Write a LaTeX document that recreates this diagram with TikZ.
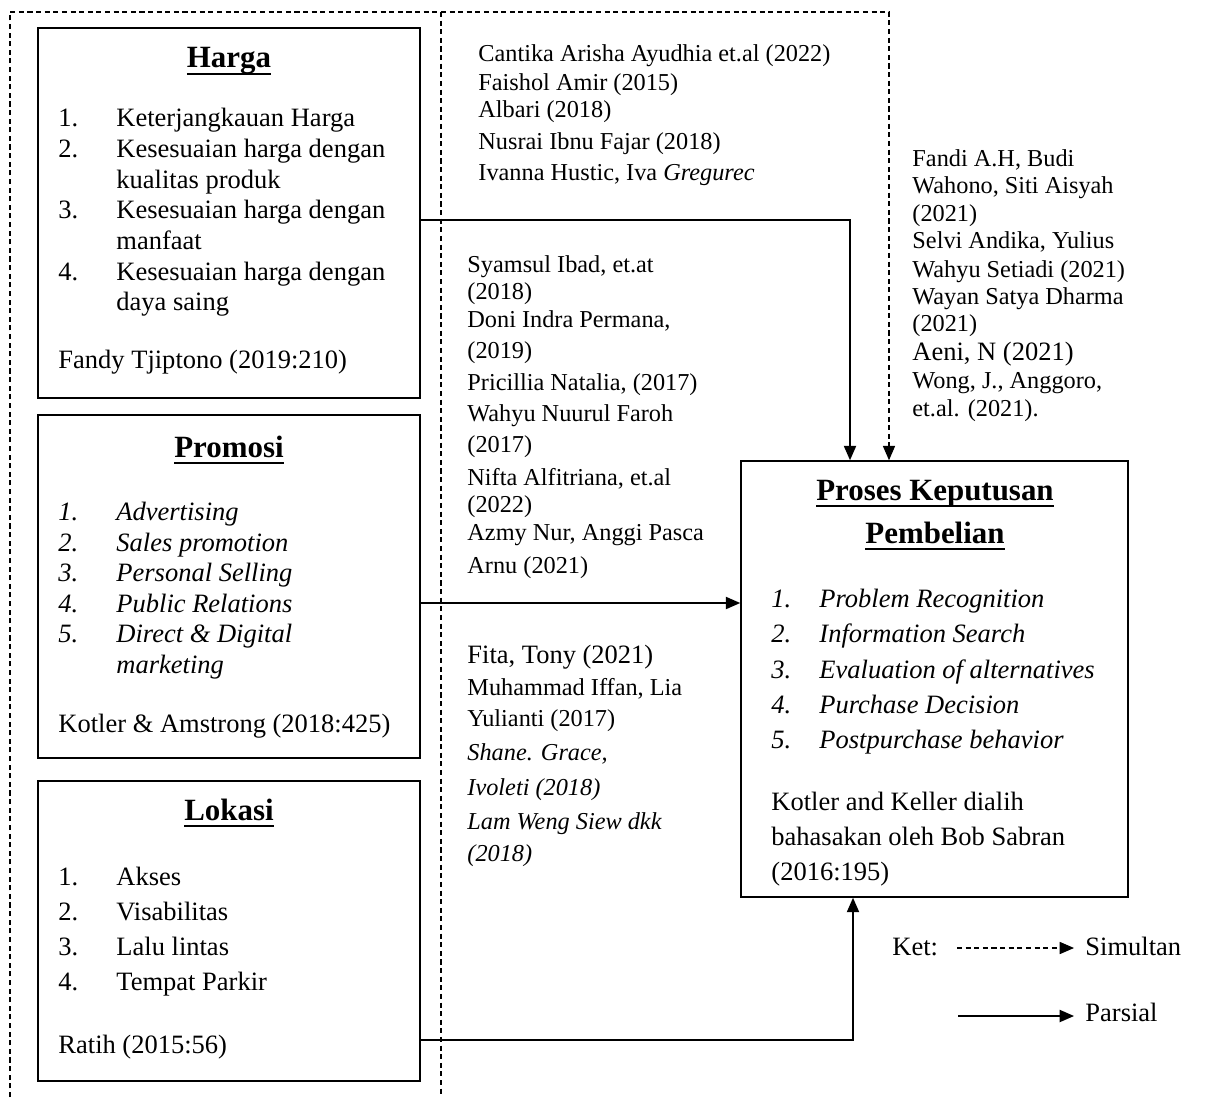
\documentclass[tikz,border=0pt]{standalone}
\usepackage{fontspec}
\setmainfont{Liberation Serif}
\usetikzlibrary{arrows.meta,fit}
\newcommand\ulttl[1]{\setbox0\hbox{#1}\rlap{\rule[-3.2pt]{\wd0}{1.1pt}}\box0}

\begin{document}
\begin{tikzpicture}[x=0.4528pt, y=-0.4528pt,
    box/.style={draw, line width=0.7pt, inner sep=0pt},
    txt/.style={anchor=base west, inner sep=0pt, font=\fontsize{12}{14}\selectfont},
    it/.style={txt, font=\fontsize{12}{14}\selectfont\itshape},
    sm/.style={txt, font=\fontsize{11}{13}\selectfont},
    smit/.style={txt, font=\fontsize{11}{13}\selectfont\itshape},
    ttl/.style={anchor=base, inner sep=0pt, font=\fontsize{14}{16}\selectfont\bfseries},
    par/.style={line width=0.7pt, -{Triangle[length=6.5pt,width=5.5pt]}},
    dsh/.style={line width=0.5pt, dash pattern=on 2.3pt off 1.6pt},
    sim/.style={par, dsh}]
    \useasboundingbox (0,0) rectangle (1206,1097);

    % boxes
    \node[box, fit={(38,28) (420,398)}] (harga) {};
    \node[box, fit={(38,415) (420,758)}] (promosi) {};
    \node[box, fit={(38,781) (420,1081)}] (lokasi) {};
    \node[box, fit={(741,461) (1128,897)}] (proses) {};

    % titles
    \node[ttl] (tharga) at (229,68) {\ulttl{Harga}};
    \node[ttl] (tpromosi) at (229,457) {\ulttl{Promosi}};
    \node[ttl] (tlokasi) at (229,820) {\ulttl{Lokasi}};
    \node[ttl] (tproses) at (935,500) {\ulttl{Proses Keputusan}};
    \node[ttl] (tpembelian) at (935,543) {\ulttl{Pembelian}};

    % indikator
    \foreach \y/\n/\t in {127/1./{Keterjangkauan Harga}, 157/2./{Kesesuaian harga dengan},
        188//{kualitas produk}, 218/3./{Kesesuaian harga dengan}, 249//{manfaat},
        280/4./{Kesesuaian harga dengan}, 310//{daya saing}}
        {\node[txt] (hn\y) at (58,\y) {\n}; \node[txt] (ht\y) at (116,\y) {\t};}
    \node[txt] (sharga) at (58,368) {Fandy Tjiptono (2019:210)};

    \foreach \y/\n/\t in {520/1./{Advertising}, 551/2./{Sales promotion}, 581/3./{Personal Selling},
        612/4./{Public Relations}, 642/5./{Direct \& Digital}, 673//{marketing}}
        {\node[it] (pn\y) at (58,\y) {\n}; \node[it] (pt\y) at (116,\y) {\t};}
    \node[txt] (spromosi) at (58,732) {Kotler \& Amstrong (2018:425)};

    \foreach \y/\n/\t in {885/1./{Akses}, 920/2./{Visabilitas}, 955/3./{Lalu lintas}, 990/4./{Tempat Parkir}}
        {\node[txt] (ln\y) at (58,\y) {\n}; \node[txt] (lt\y) at (116,\y) {\t};}
    \node[txt] (slokasi) at (58,1053) {Ratih (2015:56)};

    \foreach \y/\n/\t in {607/1./{Problem Recognition}, 642/2./{Information Search},
        678/3./{Evaluation of alternatives}, 713/4./{Purchase Decision}, 748/5./{Postpurchase behavior}}
        {\node[it] (kn\y) at (771,\y) {\n}; \node[it] (kt\y) at (819,\y) {\t};}
    \foreach \y/\t in {810/{Kotler and Keller dialih}, 845/{bahasakan oleh Bob Sabran}, 880/{(2016:195)}}
        \node[txt] (ks\y) at (771,\y) {\t};

    % penelitian terdahulu
    \foreach \y/\t in {62/{Cantika Arisha Ayudhia et.al (2022)}, 90/{Faishol Amir (2015)}, 118/{Albari (2018)},
        149/{Nusrai Ibnu Fajar (2018)}, 180/{Ivanna Hustic, Iva \textit{Gregurec}}}
        \node[sm] (ra\y) at (478,\y) {\t};
    \foreach \y/\t in {272/{Syamsul Ibad, et.at}, 299/{(2018)}, 327/{Doni Indra Permana,}, 358/{(2019)},
        390/{Pricillia Natalia, (2017)}, 421/{Wahyu Nuurul Faroh}, 452/{(2017)},
        485/{Nifta Alfitriana, et.al}, 512/{(2022)}, 540/{Azmy Nur, Anggi Pasca}, 573/{Arnu (2021)}}
        \node[sm] (rb\y) at (467,\y) {\t};
    \foreach \y/\s/\t in {663/txt/{Fita, Tony (2021)}, 695/sm/{Muhammad Iffan, Lia}, 726/sm/{Yulianti (2017)},
        760/smit/{Shane. Grace,}, 795/smit/{Ivoleti (2018)}, 829/smit/{Lam Weng Siew dkk}, 861/smit/{(2018)}}
        \node[\s] (rc\y) at (467,\y) {\t};
    \foreach \y/\s/\t in {166/sm/{Fandi A.H, Budi}, 193/sm/{Wahono, Siti Aisyah}, 221/sm/{(2021)},
        248/sm/{Selvi Andika, Yulius}, 277/sm/{Wahyu Setiadi (2021)}, 304/sm/{Wayan Satya Dharma},
        331/sm/{(2021)}, 360/txt/{Aeni, N (2021)}, 388/sm/{Wong, J., Anggoro,}, 416/sm/{et.al. (2021).}}
        \node[\s] (rd\y) at (912,\y) {\t};

    % parsial
    \draw[par] (harga.east |- 0,220) -| (proses.north -| 850,0);
    \draw[par] (promosi.east |- 0,603) -- (proses.west |- 0,603);
    \draw[par] (lokasi.east |- 0,1040) -| (proses.south -| 853,0);

    % simultan
    \coordinate (fa) at (10,1097);
    \coordinate (fb) at (10,12);
    \coordinate (fc) at (889,12);
    \draw[sim] (fa) -- (fb) -- (fc) -- (proses.north -| fc);
    \coordinate (ga) at (441,12);
    \coordinate (gb) at (441,1097);
    \draw[dsh] (ga) -- (gb);

    % keterangan
    \node[txt] (ket) at (892,955) {Ket:};
    \node[txt] (simultan) at (1085,955) {Simultan};
    \node[txt] (parsial) at (1085,1021) {Parsial};
    \coordinate (ka) at (957,948);
    \coordinate (kb) at (1074,948);
    \coordinate (kc) at (958,1016);
    \coordinate (kd) at (1074,1016);
    \draw[sim] (ka) -- (kb);
    \draw[par] (kc) -- (kd);
\end{tikzpicture}
\end{document}
